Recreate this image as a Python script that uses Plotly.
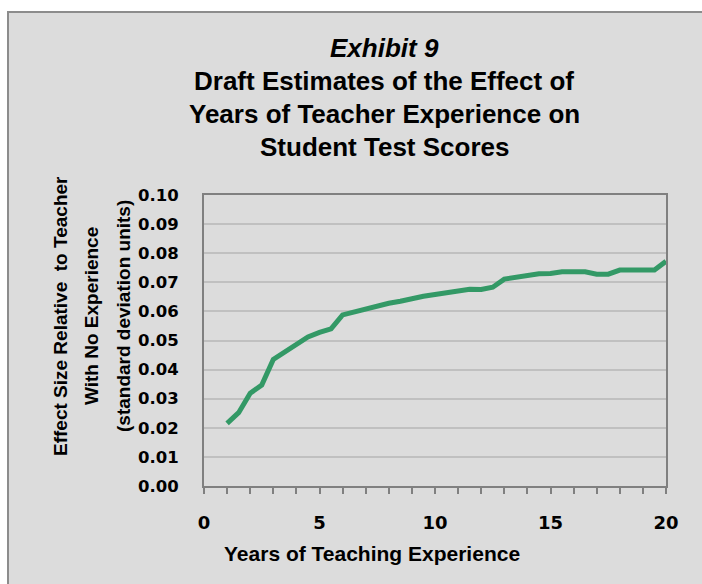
import plotly.graph_objects as go

# ---- data ----
years = [1.0, 1.5, 2.0, 2.5, 3.0, 3.5, 4.0, 4.5, 5.0, 5.5,
         6.0, 6.5, 7.0, 7.5, 8.0, 8.5, 9.0, 9.5, 10.0, 10.5,
         11.0, 11.5, 12.0, 12.5, 13.0, 13.5, 14.0, 14.5, 15.0, 15.5,
         16.0, 16.5, 17.0, 17.5, 18.0, 18.5, 19.0, 19.5, 20.0]
effect = [0.0215, 0.0252, 0.0319, 0.0347, 0.0435, 0.0462, 0.0490, 0.0512, 0.0528, 0.0540,
          0.0588, 0.0599, 0.0610, 0.0621, 0.0628, 0.0635, 0.0645, 0.0652, 0.0658, 0.0664,
          0.0670, 0.0676, 0.0675, 0.0683, 0.0711, 0.0718, 0.0723, 0.0729, 0.0730, 0.0736,
          0.0736, 0.0736, 0.0728, 0.0728, 0.0742, 0.0742, 0.0742, 0.0742, 0.0772]
x_tick_vals = [0, 5, 10, 15, 20]

title_lines = ["<b><i>Exhibit 9</i></b>",
               "<b>Draft Estimates of the Effect of</b>",
               "<b>Years of Teacher Experience on</b>",
               "<b>Student Test Scores</b>"]
y_title_lines = ["<b>Effect Size Relative  to Teacher</b>",
                 "<b>With No Experience</b>",
                 "<b>(standard deviation units)</b>"]
x_title = "<b>Years of Teaching Experience</b>"

# ---- layout geometry (page pixels; the page body margin is removed) ----
W, H = 702, 584
L, R, T, B = 204, 666, 195, 486


def fx(px):
    return (px - L) / (R - L)


def fy(py):
    return (B - py) / (B - T)


fig = go.Figure(go.Scatter(x=years, y=effect, mode="lines",
                           line=dict(color="#339966", width=5),
                           hoverinfo="x+y"))

ytickfont = dict(family="DejaVu Sans", size=16.5, color="black", weight="bold")
xtickfont = dict(family="DejaVu Sans", size=18, color="black", weight="bold")

fig.update_layout(
    width=W, height=H,
    margin=dict(l=L, r=W - R, t=T, b=H - B, pad=0),
    paper_bgcolor="white",
    plot_bgcolor="#FFFFEC",
    showlegend=False,
    xaxis=dict(range=[0, 20], tickvals=x_tick_vals, ticks="outside", ticklen=6,
               tickcolor="#808080", tickwidth=1.5,
               minor=dict(dtick=1, ticks="outside", ticklen=6,
                          tickcolor="#808080", tickwidth=1.5),
               showline=True, linecolor="#808080", linewidth=2, mirror=True,
               showgrid=False, zeroline=False, tickfont=xtickfont,
               ticklabelstandoff=13),
    yaxis=dict(range=[0, 0.1], dtick=0.01, tickformat=".2f", ticks="",
               showgrid=True, gridcolor="#C0C0C0", gridwidth=1.5,
               showline=True, linecolor="#808080", linewidth=2, mirror=True,
               zeroline=False, tickfont=ytickfont, ticklabelstandoff=20),
)

# outer gray frame
fig.add_shape(type="rect", xref="paper", yref="paper",
              x0=fx(8), x1=fx(720), y0=fy(600), y1=fy(12),
              fillcolor="#DCDCDC", line=dict(color="#8C8C8C", width=2),
              layer="below")

title_font = dict(family="Liberation Sans, Arial", size=26, color="black")
for text, py in zip(title_lines, [48, 81, 114, 147]):
    fig.add_annotation(text=text, xref="paper", yref="paper",
                       x=fx(384), y=fy(py), xanchor="center", yanchor="middle",
                       showarrow=False, font=title_font)

ytitle_font = dict(family="Liberation Sans, Arial", size=19, color="black")
for text, px in zip(y_title_lines, [60, 91, 123]):
    fig.add_annotation(text=text, xref="paper", yref="paper",
                       x=fx(px), y=fy(316), xanchor="center", yanchor="middle",
                       textangle=-90, showarrow=False, font=ytitle_font)

fig.add_annotation(text=x_title, xref="paper", yref="paper",
                   x=fx(372), y=fy(553), xanchor="center", yanchor="middle",
                   showarrow=False,
                   font=dict(family="Liberation Sans, Arial", size=21, color="black"))

fig.write_html(
    "out.html",
    config={"displayModeBar": False},
    post_script="document.body.style.margin='0px';"
                "document.documentElement.style.overflow='hidden';"
                "document.body.style.overflow='hidden';",
)
